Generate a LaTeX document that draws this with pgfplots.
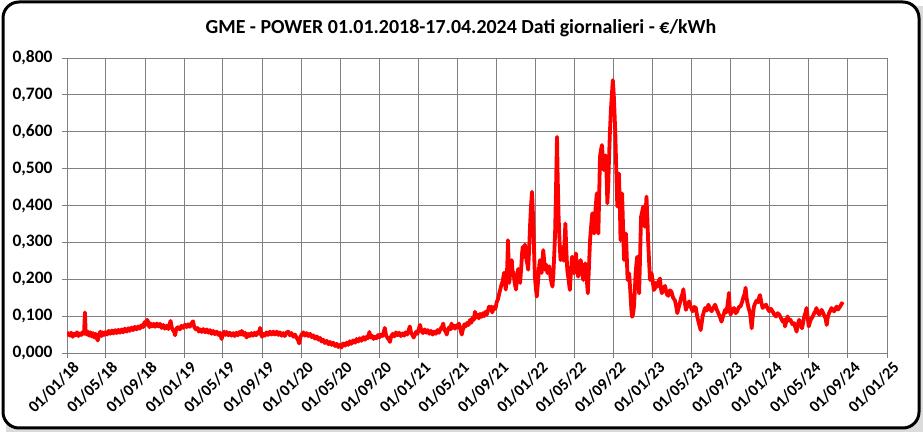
\documentclass[border=0pt]{standalone}
\usepackage{pgfplots}
\pgfplotsset{compat=1.18}
\usepackage{fontspec}
\setmainfont{Carlito}

\begin{document}
\begin{tikzpicture}
\useasboundingbox (0bp,0bp) rectangle (923bp,432bp);
\fill[black!14] (6bp,0bp) rectangle (923bp,426bp);
\draw[line width=3bp, rounded corners=16bp, fill=white] (3bp,4bp) rectangle (919bp,430bp);
\begin{axis}[
  at={(67bp,79bp)}, anchor=south west,
  scale only axis, width=820bp, height=295bp,
  xmin=0, xmax=2557, ymin=0, ymax=0.8,
  axis line style={draw=gray, line width=0.8bp},
  grid=major,
  major grid style={draw=gray, line width=0.8bp},
  tick align=outside, major tick length=5bp,
  tick style={draw=gray, line width=0.8bp},
  xtick pos=left, ytick pos=left,
  ytick={0,0.1,0.2,0.3,0.4,0.5,0.6,0.7,0.8},
  yticklabels={{0,000},{0,100},{0,200},{0,300},{0,400},{0,500},{0,600},{0,700},{0,800}},
  xtick={0,120,243,365,485,608,730,851,974,1096,1216,1339,1461,1581,1704,1826,1946,2069,2191,2312,2435,2557},
  xticklabels={01/01/18,01/05/18,01/09/18,01/01/19,01/05/19,01/09/19,01/01/20,01/05/20,01/09/20,01/01/21,01/05/21,01/09/21,01/01/22,01/05/22,01/09/22,01/01/23,01/05/23,01/09/23,01/01/24,01/05/24,01/09/24,01/01/25},
  ticklabel style={text=black},
  yticklabel style={font=\bfseries\fontsize{17.5}{17.5}\selectfont, xshift=-6bp},
  xticklabel style={font=\bfseries\fontsize{16.5}{16.5}\selectfont, rotate=45, anchor=north east, inner sep=1bp, xshift=3bp, yshift=-4bp},
]
\addplot[color=red, line width=3.8bp, line join=round] table {
d v
0 0.046
4 0.054
9 0.047
13 0.055
18 0.044
22 0.052
27 0.048
31 0.056
36 0.046
40 0.053
45 0.049
49 0.057
53 0.052
56 0.110
58 0.062
61 0.050
65 0.058
69 0.047
73 0.056
77 0.045
81 0.054
85 0.042
89 0.052
93 0.040
96 0.034
100 0.050
104 0.058
108 0.046
112 0.056
116 0.049
120 0.057
125 0.050
130 0.060
135 0.052
140 0.061
145 0.053
150 0.062
155 0.054
160 0.063
165 0.055
170 0.064
175 0.056
180 0.066
186 0.058
191 0.067
196 0.060
201 0.069
206 0.062
211 0.071
217 0.064
222 0.072
227 0.066
232 0.075
237 0.070
242 0.084
246 0.076
250 0.090
253 0.084
257 0.070
261 0.080
265 0.072
270 0.079
275 0.071
280 0.080
285 0.072
290 0.079
295 0.068
300 0.076
305 0.066
311 0.074
316 0.065
320 0.078
323 0.087
327 0.068
331 0.061
335 0.056
337 0.048
341 0.066
346 0.070
352 0.064
357 0.074
362 0.068
368 0.077
373 0.070
378 0.078
383 0.071
388 0.080
393 0.086
397 0.070
402 0.064
407 0.068
411 0.058
415 0.064
420 0.057
425 0.065
431 0.056
436 0.064
441 0.055
446 0.062
451 0.052
456 0.060
461 0.051
467 0.058
472 0.049
477 0.055
482 0.038
486 0.050
490 0.058
494 0.049
498 0.057
503 0.048
508 0.055
513 0.047
518 0.054
523 0.046
528 0.055
533 0.048
538 0.057
542 0.050
545 0.060
550 0.049
555 0.055
560 0.042
565 0.052
570 0.046
575 0.054
580 0.047
585 0.055
590 0.048
595 0.057
599 0.052
602 0.068
605 0.055
608 0.044
612 0.052
617 0.047
622 0.056
627 0.049
633 0.058
638 0.050
643 0.058
648 0.050
654 0.058
659 0.049
664 0.056
669 0.047
674 0.054
679 0.046
684 0.055
690 0.058
695 0.048
700 0.054
706 0.044
711 0.050
716 0.041
720 0.036
724 0.026
728 0.044
733 0.052
737 0.056
742 0.047
747 0.054
752 0.046
758 0.052
763 0.043
768 0.048
773 0.039
779 0.045
784 0.036
789 0.041
794 0.031
799 0.036
804 0.027
810 0.033
815 0.024
820 0.030
825 0.022
830 0.028
836 0.019
841 0.025
846 0.016
851 0.022
856 0.015
861 0.026
867 0.020
872 0.028
877 0.022
882 0.032
887 0.025
892 0.034
898 0.028
903 0.038
908 0.031
913 0.040
918 0.033
924 0.043
929 0.036
934 0.044
938 0.040
943 0.057
947 0.042
951 0.047
956 0.038
960 0.044
965 0.040
970 0.049
974 0.042
979 0.050
984 0.046
988 0.058
991 0.068
995 0.048
1000 0.040
1004 0.036
1007 0.030
1011 0.046
1016 0.052
1021 0.045
1026 0.056
1031 0.048
1036 0.055
1041 0.046
1046 0.053
1051 0.047
1056 0.056
1061 0.050
1065 0.060
1069 0.072
1073 0.055
1077 0.049
1081 0.042
1085 0.050
1089 0.058
1093 0.052
1097 0.066
1101 0.076
1105 0.060
1110 0.054
1115 0.064
1120 0.055
1125 0.062
1130 0.052
1135 0.060
1140 0.050
1145 0.058
1150 0.052
1155 0.062
1160 0.055
1165 0.066
1170 0.072
1173 0.080
1177 0.062
1181 0.058
1184 0.050
1188 0.064
1192 0.070
1196 0.064
1199 0.080
1203 0.068
1207 0.074
1210 0.066
1214 0.075
1218 0.070
1222 0.080
1226 0.066
1231 0.050
1235 0.066
1239 0.078
1243 0.072
1248 0.082
1252 0.076
1257 0.090
1261 0.082
1265 0.096
1269 0.090
1272 0.112
1276 0.096
1280 0.104
1284 0.094
1288 0.106
1293 0.098
1297 0.108
1301 0.100
1305 0.112
1309 0.104
1313 0.116
1316 0.126
1319 0.118
1323 0.126
1326 0.110
1329 0.118
1333 0.126
1336 0.120
1340 0.138
1344 0.146
1348 0.162
1351 0.172
1355 0.186
1359 0.196
1363 0.218
1366 0.190
1368 0.172
1371 0.200
1373 0.240
1375 0.306
1377 0.250
1379 0.190
1383 0.230
1387 0.252
1390 0.210
1392 0.220
1396 0.190
1400 0.172
1403 0.200
1407 0.228
1410 0.205
1413 0.190
1417 0.240
1419 0.270
1421 0.288
1424 0.260
1428 0.294
1431 0.270
1433 0.250
1436 0.240
1438 0.226
1441 0.280
1444 0.347
1447 0.400
1450 0.437
1452 0.400
1455 0.324
1457 0.260
1459 0.208
1462 0.175
1465 0.153
1468 0.185
1470 0.208
1473 0.240
1475 0.252
1478 0.225
1480 0.217
1483 0.250
1485 0.279
1488 0.250
1490 0.226
1494 0.240
1498 0.217
1501 0.230
1504 0.235
1507 0.210
1511 0.189
1514 0.180
1517 0.220
1520 0.280
1522 0.324
1525 0.450
1528 0.586
1530 0.480
1533 0.369
1536 0.300
1539 0.252
1542 0.270
1546 0.288
1549 0.250
1552 0.310
1554 0.351
1557 0.280
1560 0.225
1564 0.200
1568 0.171
1571 0.215
1575 0.261
1578 0.240
1581 0.216
1584 0.250
1587 0.270
1590 0.235
1594 0.207
1598 0.235
1602 0.252
1606 0.220
1610 0.198
1613 0.225
1616 0.243
1620 0.210
1624 0.162
1627 0.220
1631 0.306
1634 0.340
1638 0.379
1641 0.350
1644 0.324
1648 0.390
1652 0.433
1655 0.380
1657 0.324
1660 0.450
1662 0.532
1665 0.550
1668 0.564
1671 0.530
1674 0.496
1677 0.520
1680 0.536
1683 0.470
1685 0.406
1688 0.460
1690 0.523
1693 0.600
1696 0.659
1699 0.700
1702 0.740
1705 0.700
1707 0.659
1710 0.590
1712 0.523
1714 0.460
1716 0.397
1719 0.450
1721 0.487
1724 0.400
1726 0.306
1729 0.380
1731 0.433
1734 0.340
1737 0.252
1740 0.290
1743 0.324
1746 0.250
1748 0.198
1751 0.205
1753 0.216
1756 0.175
1758 0.144
1760 0.115
1762 0.098
1765 0.105
1768 0.126
1771 0.175
1773 0.216
1776 0.245
1778 0.261
1781 0.210
1784 0.162
1787 0.260
1790 0.369
1794 0.385
1797 0.397
1800 0.370
1802 0.342
1805 0.390
1807 0.424
1810 0.360
1812 0.306
1815 0.250
1818 0.198
1821 0.210
1823 0.216
1826 0.198
1830 0.171
1833 0.175
1836 0.190
1841 0.180
1845 0.195
1849 0.202
1852 0.175
1855 0.162
1860 0.175
1865 0.182
1870 0.160
1875 0.155
1880 0.170
1885 0.166
1890 0.150
1896 0.142
1900 0.125
1903 0.108
1907 0.122
1911 0.135
1915 0.150
1919 0.160
1922 0.173
1926 0.140
1930 0.117
1935 0.130
1940 0.140
1945 0.125
1951 0.113
1956 0.125
1961 0.122
1965 0.100
1968 0.089
1972 0.075
1976 0.062
1979 0.080
1982 0.099
1986 0.112
1990 0.122
1995 0.115
2000 0.131
2005 0.120
2010 0.113
2015 0.122
2021 0.131
2026 0.118
2031 0.108
2036 0.098
2041 0.085
2046 0.100
2052 0.117
2056 0.110
2059 0.126
2062 0.145
2064 0.163
2066 0.130
2069 0.104
2074 0.115
2080 0.122
2085 0.108
2090 0.113
2095 0.125
2100 0.126
2105 0.138
2109 0.151
2113 0.160
2116 0.177
2119 0.150
2122 0.135
2126 0.120
2130 0.108
2133 0.085
2135 0.067
2138 0.095
2142 0.126
2146 0.135
2150 0.142
2155 0.138
2158 0.150
2161 0.157
2165 0.138
2169 0.122
2175 0.128
2180 0.131
2185 0.120
2190 0.113
2195 0.120
2200 0.113
2205 0.105
2211 0.099
2216 0.108
2221 0.104
2226 0.095
2232 0.085
2236 0.090
2239 0.072
2243 0.086
2247 0.099
2252 0.088
2256 0.090
2262 0.078
2267 0.081
2271 0.070
2275 0.058
2279 0.078
2283 0.090
2288 0.075
2292 0.067
2296 0.085
2299 0.099
2303 0.110
2306 0.122
2310 0.095
2313 0.072
2318 0.088
2322 0.094
2326 0.100
2330 0.108
2334 0.114
2337 0.122
2341 0.110
2346 0.104
2350 0.112
2353 0.117
2357 0.110
2360 0.104
2365 0.095
2369 0.076
2372 0.095
2376 0.108
2380 0.115
2384 0.122
2388 0.116
2392 0.113
2396 0.120
2400 0.126
2404 0.118
2408 0.122
2412 0.128
2416 0.135
2419 0.132
2421 0.131
};
\end{axis}
\node[font=\bfseries\fontsize{20}{22}\selectfont, text=black] at (461bp,404bp) {GME - POWER 01.01.2018-17.04.2024 Dati giornalieri - €/kWh};
\end{tikzpicture}
\end{document}
